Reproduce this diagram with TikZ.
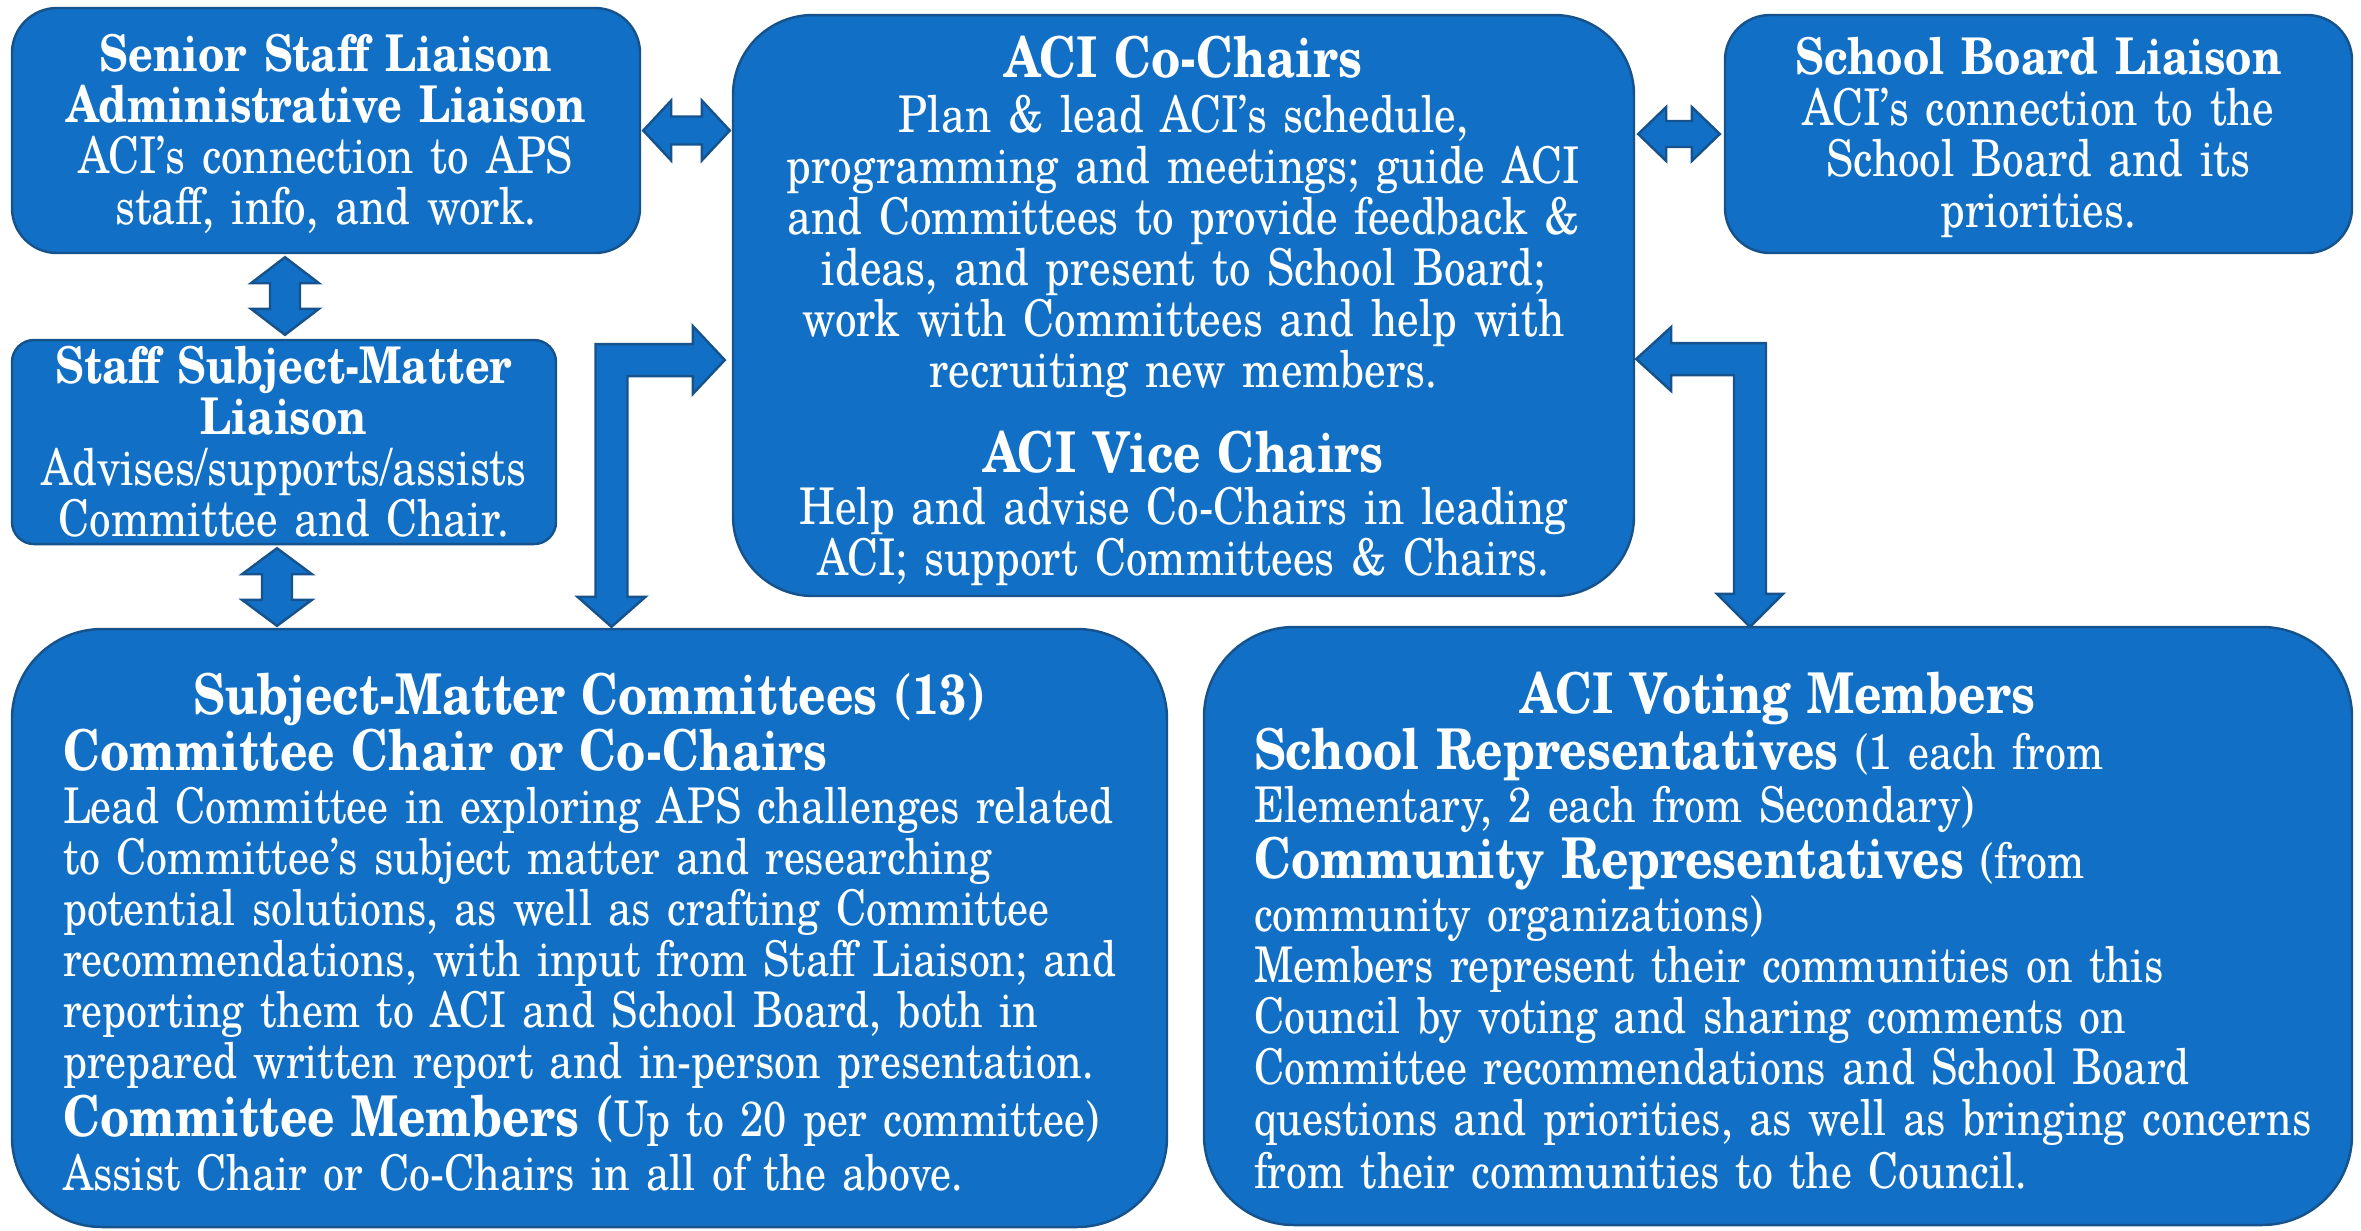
\documentclass[tikz,border=0pt]{standalone}
\usepackage{fontspec}
\setmainfont{TeX Gyre Schola}[FakeStretch=0.85]
\usetikzlibrary{calc}
\definecolor{aciblue}{RGB}{17,112,198}
\definecolor{aciedge}{RGB}{22,82,140}
\newcommand{\bighead}[1]{{\fontsize{16}{14.5}\selectfont\bfseries #1}}
\newcommand{\topstrut}[1]{\rule{0pt}{#1}}
\newcommand{\botstrut}[1]{\rule[-#1]{0pt}{#1}}

\begin{document}
\begin{tikzpicture}[x = 0.1mm, y = -0.1mm,
    box/.style={draw=aciedge, fill=aciblue, line width=0.7pt, text=white, inner sep=0pt,
      align=center, font=\fontsize{14.4}{14.5}\selectfont,
      execute at begin node={\hyphenpenalty=10000\topstrut{12.4pt}}, execute at end node={\botstrut{2.1pt}}},
    widebox/.style={box, rounded corners=9mm, minimum height=59.8mm, align=left,
      font=\fontsize{14}{14.5}\selectfont,
      execute at begin node={\hyphenpenalty=10000\leftskip=1.1mm\topstrut{18pt}},
      execute at end node={\botstrut{4pt}}},
    blockarrow/.style={draw=aciedge, fill=aciblue, line width=0.7pt, line join=miter}]
    \useasboundingbox (0,0) rectangle (2361,1230);

    % boxes
    \node (senior) [box, rounded corners=4.5mm, minimum width=62.8mm, minimum height=24.5mm,
      text width=60mm] at (326,130.5)
      {\textbf{Senior Staff Liaison}\\ \textbf{Administrative Liaison}\\ ACI’s connection to APS\\ staff, info, and work.};
    \node (staff) [box, rounded corners=2.2mm, minimum width=54.4mm, minimum height=20.4mm,
      text width=52mm] at (284,442)
      {\textbf{Staff Subject-Matter}\\ \textbf{Liaison}\\ Advises/supports/assists\\ Committee and Chair.};
    \node (chairs) [box, rounded corners=8mm, minimum width=90.1mm, minimum height=58.1mm,
      text width=86mm, execute at begin node={\hyphenpenalty=10000\topstrut{15pt}}] at (1183.5,305.5)
      {\bighead{ACI Co-Chairs}\\[1pt]
       Plan \& lead ACI’s schedule,\\
       programming and meetings; guide ACI\\
       and Committees to provide feedback \&\\
       ideas, and present to School Board;\\
       work with Committees and help with\\
       recruiting new members.\\[8.5pt]
       \bighead{ACI Vice Chairs}\\[0.5pt]
       Help and advise Co-Chairs in leading\\
       ACI; support Committees \& Chairs.};
    \node (board) [box, rounded corners=4.5mm, minimum width=62.7mm, minimum height=23.8mm,
      text width=60mm] at (2038.5,134)
      {\textbf{School Board Liaison}\\ ACI’s connection to the\\ School Board and its\\ priorities.};
    \node (committees) [widebox, minimum width=115.5mm, text width=107.5mm] at (589.5,928)
      {\makebox[\dimexpr\linewidth-2\leftskip]{\bighead{Subject-Matter Committees (13)}}\\
       \bighead{Committee Chair or Co-Chairs}\\[0.5pt]
       Lead Committee in exploring APS challenges related\\
       to Committee’s subject matter and researching\\
       potential solutions, as well as crafting Committee\\
       recommendations, with input from Staff Liaison; and\\
       reporting them to ACI and School Board, both in\\
       prepared written report and in-person presentation.\\[1pt]
       \bighead{Committee Members (}Up to 20 per committee)\\[1pt]
       Assist Chair or Co-Chairs in all of the above.};
    \node (voting) [widebox, minimum width=114.8mm, text width=107mm] at (1778,926)
      {\makebox[\dimexpr\linewidth-2\leftskip]{\bighead{ACI Voting Members}}\\
       \bighead{School Representatives} (1 each from\\[0.5pt]
       Elementary, 2 each from Secondary)\\[0.5pt]
       \bighead{Community Representatives} (from\\[0.5pt]
       community organizations)\\
       Members represent their communities on this\\
       Council by voting and sharing comments on\\
       Committee recommendations and School Board\\
       questions and priorities, as well as bringing concerns\\[0.5pt]
       from their communities to the Council.};

    % straight double arrows
    \coordinate (p) at ($(senior.east)+(2,0)$);
    \coordinate (q) at ($(chairs.west |- senior.east)+(-2,0)$);
    \draw [blockarrow] (p) -- ($(p)+(28,-30)$) -- ($(p)+(28,-14)$) -- ($(q)+(-28,-14)$) -- ($(q)+(-28,-30)$)
      -- (q) -- ($(q)+(-28,30)$) -- ($(q)+(-28,14)$) -- ($(p)+(28,14)$) -- ($(p)+(28,30)$) -- cycle;
    \coordinate (p) at ($(chairs.east |- board.west)+(3,0)$);
    \coordinate (q) at ($(board.west)+(-4,0)$);
    \draw [blockarrow] (p) -- ($(p)+(28,-27)$) -- ($(p)+(28,-13)$) -- ($(q)+(-28,-13)$) -- ($(q)+(-28,-27)$)
      -- (q) -- ($(q)+(-28,27)$) -- ($(q)+(-28,13)$) -- ($(p)+(28,13)$) -- ($(p)+(28,27)$) -- cycle;
    \coordinate (p) at ($(staff.north |- senior.south)+(1,3)$);
    \coordinate (q) at ($(staff.north)+(1,-4)$);
    \draw [blockarrow] (p) -- ($(p)+(-34,26)$) -- ($(p)+(-15,26)$) -- ($(q)+(-15,-26)$) -- ($(q)+(-34,-26)$)
      -- (q) -- ($(q)+(34,-26)$) -- ($(q)+(15,-26)$) -- ($(p)+(15,26)$) -- ($(p)+(34,26)$) -- cycle;
    \coordinate (p) at ($(staff.south)+(-7,3)$);
    \coordinate (q) at ($(staff.south |- committees.north)+(-7,-2)$);
    \draw [blockarrow] (p) -- ($(p)+(-35,26)$) -- ($(p)+(-15,26)$) -- ($(q)+(-15,-26)$) -- ($(q)+(-35,-26)$)
      -- (q) -- ($(q)+(35,-26)$) -- ($(q)+(15,-26)$) -- ($(p)+(15,26)$) -- ($(p)+(35,26)$) -- cycle;

    % bent arrows
    \coordinate (l1) at ($(committees.north)+(22,-1)$);
    \coordinate (l2) at ($(chairs.west |- 0,360)+(-7,0)$);
    \coordinate (lc) at (l1 |- l2);
    \draw [blockarrow] (l1) -- ($(l1)+(34,-30)$) -- ($(l1)+(16,-30)$) -- ($(lc)+(16,16)$) -- ($(l2)+(-32,16)$)
      -- ($(l2)+(-32,34)$) -- (l2) -- ($(l2)+(-32,-34)$) -- ($(l2)+(-32,-16)$) -- ($(lc)+(-16,-16)$)
      -- ($(l1)+(-16,-30)$) -- ($(l1)+(-34,-30)$) -- cycle;
    \coordinate (r1) at ($(voting.north)+(-28,1)$);
    \coordinate (r2) at ($(chairs.east |- 0,359)+(1,0)$);
    \coordinate (rc) at (r1 |- r2);
    \draw [blockarrow] (r1) -- ($(r1)+(33,-33)$) -- ($(r1)+(16,-33)$) -- ($(rc)+(16,-16)$) -- ($(r2)+(35,-16)$)
      -- ($(r2)+(35,-32)$) -- (r2) -- ($(r2)+(35,32)$) -- ($(r2)+(35,16)$) -- ($(rc)+(-16,16)$)
      -- ($(r1)+(-16,-33)$) -- ($(r1)+(-33,-33)$) -- cycle;
\end{tikzpicture}
\end{document}
